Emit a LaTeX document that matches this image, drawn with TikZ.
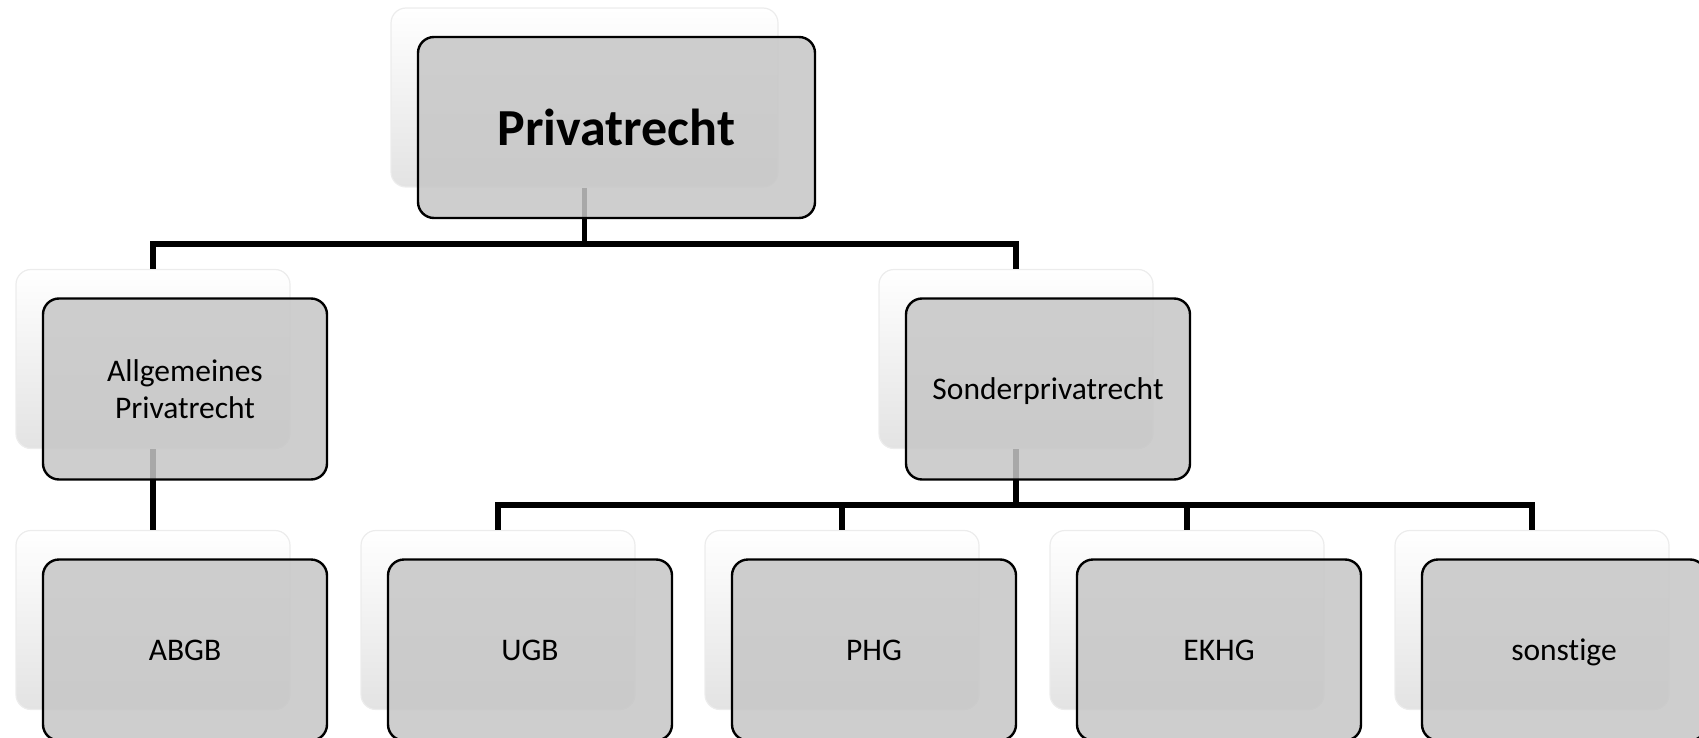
\documentclass[tikz,border=0pt]{standalone}
\usepackage{fontspec}
\setmainfont{Carlito}[Ligatures=NoCommon]
\definecolor{boxgray}{RGB}{198,198,198}
\begin{document}
\begin{tikzpicture}[x=1pt,y=-1pt,
  front/.style={rectangle, rounded corners=16pt, draw=black, line width=2.4pt,
    fill=boxgray, fill opacity=0.85, text opacity=1, draw opacity=1,
    minimum width=284pt, minimum height=181pt, inner sep=0pt, align=center,
    font=\fontsize{31.5}{37}\selectfont},
  oneline/.style={text height=20pt, text depth=0pt},
  back/.style={rectangle, rounded corners=15pt, draw=gray!15, line width=1.2pt,
    top color=white, bottom color=gray!22,
    minimum width=274pt, minimum height=179pt, inner sep=0pt},
  link/.style={line width=5.2pt, black}
]
\useasboundingbox (0,0) rectangle (1699,738);
\clip (0,0) rectangle (1699,738);

% back (glass) panels
\node[back, minimum width=387pt] (b0) at (584.5,97.5) {};
\node[back] (bA) at (153,359) {};
\node[back] (bS) at (1016,359) {};
\node[back] (b1) at (153,620) {};
\node[back] (b2) at (498,620) {};
\node[back] (b3) at (842,620) {};
\node[back] (b4) at (1187,620) {};
\node[back] (b5) at (1532,620) {};

% connectors
\coordinate (bus0) at (0,244);
\coordinate (bus1) at (0,505);
\draw[link] (b0.south) -- (b0.south |- bus0);
\draw[link] (bA.north) |- (b0.south |- bus0) -| (bS.north);
\draw[link] (bA.south) -- (b1.north);
\draw[link] (bS.south) -- (bS.south |- bus1);
\draw[link] (b2.north) |- (bS.south |- bus1) -| (b5.north);
\draw[link] (b3.north) -- (b3.north |- bus1);
\draw[link] (b4.north) -- (b4.north |- bus1);

% front panels
\node[front, minimum width=397pt, font=\fontsize{52}{60}\bfseries] (n0) at (616.5,127.5) {Privatrecht};
\node[front] (nA) at (185,389) {Allgemeines\\Privatrecht};
\node[front, oneline] (nS) at (1048,389) {Sonderprivatrecht};
\node[front, oneline] (n1) at (185,650) {ABGB};
\node[front, oneline] (n2) at (530,650) {UGB};
\node[front, oneline] (n3) at (874,650) {PHG};
\node[front, oneline] (n4) at (1219,650) {EKHG};
\node[front, oneline] (n5) at (1564,650) {sonstige};
\end{tikzpicture}
\end{document}
